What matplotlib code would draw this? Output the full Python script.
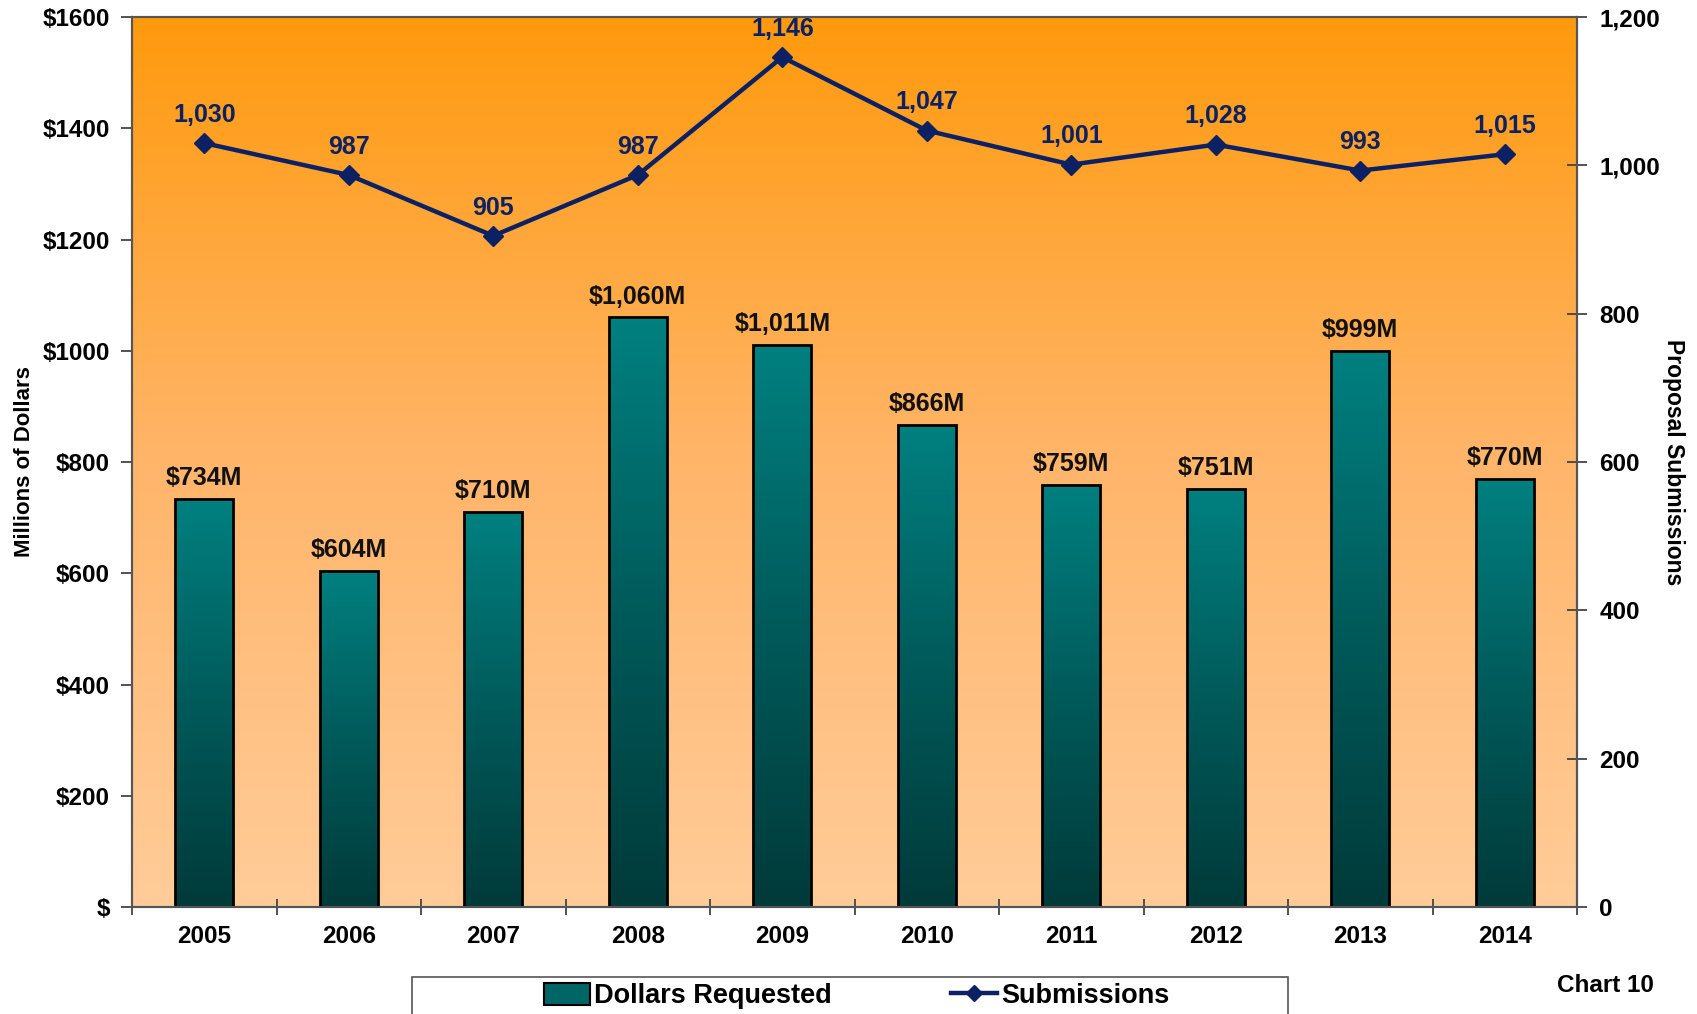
import numpy as np
import matplotlib
matplotlib.use("Agg")
import matplotlib.pyplot as plt
from matplotlib.colors import LinearSegmentedColormap
from matplotlib.patches import Patch, Rectangle
from matplotlib.lines import Line2D

years = ['2005', '2006', '2007', '2008', '2009', '2010', '2011', '2012', '2013', '2014']
dollars = [734, 604, 710, 1060, 1011, 866, 759, 751, 999, 770]  # millions
submissions = [1030, 987, 905, 987, 1146, 1047, 1001, 1028, 993, 1015]

plt.rcParams['font.family'] = ['Liberation Sans', 'DejaVu Sans']
plt.rcParams['font.weight'] = 'bold'

NAVY = '#0c2163'
bg_cmap = LinearSegmentedColormap.from_list('bg', ['#ffcc99', '#ffb56a', '#ff9a0d'])
bar_cmap = LinearSegmentedColormap.from_list('bar', ['#003a3a', '#005a5a', '#008080'])

fig = plt.figure(figsize=(16.97, 10.14), dpi=100)
ax = fig.add_axes([0.0778, 0.1055, 0.8515, 0.8777])
ax2 = ax.twinx()

x = np.arange(len(years))

# background gradient
grad = np.linspace(0, 1, 256).reshape(-1, 1)
ax.imshow(grad, cmap=bg_cmap, origin='lower', aspect='auto',
          extent=(-0.5, len(years) - 0.5, 0, 1600), zorder=0)

# bars with vertical gradient
bars = ax.bar(x, dollars, width=0.4, facecolor='none', edgecolor='black',
              linewidth=2, zorder=3)
for b, v in zip(bars, dollars):
    im = ax.imshow(grad, cmap=bar_cmap, origin='lower', aspect='auto',
                   extent=(b.get_x(), b.get_x() + b.get_width(), 0, v), zorder=2)
    im.set_clip_path(b)
    ax.text(b.get_x() + b.get_width() / 2, v + 16, f'${v:,}M', ha='center',
            va='bottom', fontsize=18, fontweight='bold', color='#111111', zorder=4)
ax.set_xlim(-0.5, len(years) - 0.5)
ax.set_ylim(0, 1600)
ax2.set_ylim(0, 1200)

# submissions line
ax2.plot(x, submissions, color=NAVY, linewidth=3.2, marker='D', markersize=10, zorder=5)
for xi, s in zip(x, submissions):
    ax2.text(xi, s + 22, f'{s:,}', ha='center', va='bottom', fontsize=18,
             fontweight='bold', color=NAVY)

# axes styling
ax.set_yticks(range(0, 1601, 200))
ax.set_yticklabels(['$'] + [f'${v}' for v in range(200, 1601, 200)])
ax2.set_yticks(range(0, 1201, 200))
ax2.set_yticklabels([f'{v:,}' for v in range(0, 1201, 200)])
ax.set_xticks(np.arange(-0.5, len(years), 1.0))
ax.set_xticklabels([])
ax.set_xticks(x, minor=True)
ax.set_xticklabels(years, minor=True)
ax.tick_params(axis='x', which='major', direction='inout', length=12, width=1.3, color='#444444')
ax.tick_params(axis='x', which='minor', length=0, pad=13, labelsize=17.5)
ax.tick_params(axis='y', direction='out', length=8, width=1.3, color='#444444', labelsize=17.5, pad=8)
ax2.tick_params(axis='y', direction='inout', length=14, width=1.3, color='#444444', labelsize=17.5, pad=9)

for a in (ax, ax2):
    for sp in a.spines.values():
        sp.set_color('#555555')
        sp.set_linewidth(1.5)

ax.set_ylabel('Millions of Dollars', fontsize=16, fontweight='bold', labelpad=5)
ax2.set_ylabel('Proposal Submissions', fontsize=16.5, fontweight='bold',
               rotation=270, labelpad=18)

# legend box (runs off the bottom edge like the original)
fig.add_artist(Rectangle((0.243, -0.02), 0.516, 0.0563, transform=fig.transFigure,
                         facecolor='white', edgecolor='#555555', linewidth=1.2))
handles = [Patch(facecolor='#006565', edgecolor='black', linewidth=1.5),
           Line2D([], [], color=NAVY, linewidth=3.2, marker='D', markersize=8)]
leg = fig.legend(handles, ['Dollars Requested', 'Submissions'], ncol=2,
                 loc='center', bbox_to_anchor=(0.505, 0.0175),
                 frameon=False,
                 prop={'size': 19.5, 'weight': 'bold'},
                 handlelength=1.7, handleheight=0.85, handletextpad=0.15,
                 columnspacing=4.4, borderpad=0.1)

fig.text(0.9458, 0.0277, 'Chart 10', ha='center', va='center', fontsize=17.5, fontweight='bold')

fig.savefig('out.png', dpi=100)
